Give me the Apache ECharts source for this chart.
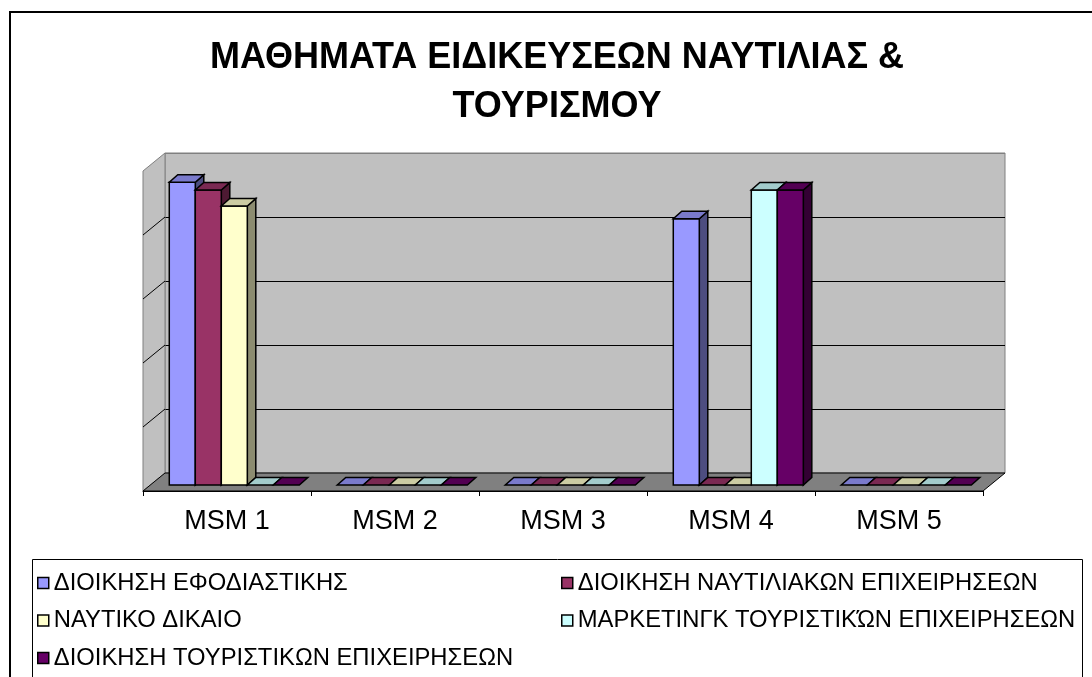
<!DOCTYPE html>
<html>
<head>
<meta charset="utf-8">
<script src="https://cdn.jsdelivr.net/npm/echarts@6/dist/echarts.min.js"></script>
<style>
html,body{margin:0;padding:0;background:#ffffff;}
#chart{width:1092px;height:677px;}
</style>
</head>
<body>
<div id="chart"></div>
<script>
// ---- data ----
const categories = ['MSM 1', 'MSM 2', 'MSM 3', 'MSM 4', 'MSM 5'];
const seriesNames = [
  'ΔΙΟΙΚΗΣΗ ΕΦΟΔΙΑΣΤΙΚΗΣ',
  'ΔΙΟΙΚΗΣΗ ΝΑΥΤΙΛΙΑΚΩΝ ΕΠΙΧΕΙΡΗΣΕΩΝ',
  'ΝΑΥΤΙΚΟ ΔΙΚΑΙΟ',
  'ΜΑΡΚΕΤΙΝΓΚ ΤΟΥΡΙΣΤΙΚΏΝ ΕΠΙΧΕΙΡΗΣΕΩΝ',
  'ΔΙΟΙΚΗΣΗ ΤΟΥΡΙΣΤΙΚΩΝ ΕΠΙΧΕΙΡΗΣΕΩΝ'
];
const dioikisiEfodiastikis = [4.73, 0, 0, 4.16, 0];
const dioikisiNaftiliakon = [4.61, 0, 0, 0, 0];
const naftikoDikaio = [4.36, 0, 0, 0, 0];
const marketingTouristikon = [0, 0, 0, 4.61, 0];
const dioikisiTouristikon = [0, 0, 0, 4.61, 0];
const yMin = 0;
const yMax = 5;
const yInterval = 1;
const titleText = 'ΜΑΘΗΜΑΤΑ ΕΙΔΙΚΕΥΣΕΩΝ ΝΑΥΤΙΛΙΑΣ &\nΤΟΥΡΙΣΜΟΥ';

// ---- style ----
const FRONT = ['#9999FF', '#993366', '#FFFFCC', '#CCFFFF', '#660066'];
const TOPC  = ['#7A7ACC', '#7A2952', '#CCCCA3', '#A3CCCC', '#520052'];
const SIDE  = ['#4D4D80', '#4D1A33', '#8C8C70', '#668080', '#330033'];
const FONT = "'Liberation Sans', Arial, sans-serif";
const WALL_DX = 22, WALL_DY = 18;   // depth of floor / side wall
const BAR_DX = 8.5, BAR_DY = 7.5;   // depth of a column
const GROUP = 0.774;                // share of a category band taken by the 5 columns
const EDGE = 1.5;                   // outline width of the columns

const allValues = [dioikisiEfodiastikis, dioikisiNaftiliakon, naftikoDikaio, marketingTouristikon, dioikisiTouristikon];

function barRender(i) {
  return function (params, api) {
    const cat = api.value(0), val = api.value(1);
    const top = api.coord([cat, val]);
    const base = api.coord([cat, 0]);
    const band = api.size([1, 0])[0];
    const w = band * GROUP / 5;
    const x0 = top[0] - band * GROUP / 2 + i * w, x1 = x0 + w;
    const yt = top[1], yb = base[1];
    const st = { stroke: '#000', lineWidth: EDGE, lineJoin: 'miter' };
    const children = [];
    if (yb - yt > 0.5) {
      children.push({ type: 'polygon', shape: { points: [[x1, yt], [x1 + BAR_DX, yt - BAR_DY], [x1 + BAR_DX, yb - BAR_DY], [x1, yb]] },
        style: Object.assign({}, st, { fill: SIDE[i] }) });
      children.push({ type: 'rect', shape: { x: x0, y: yt, width: w, height: yb - yt },
        style: Object.assign({}, st, { fill: FRONT[i] }) });
    }
    children.push({ type: 'polygon', shape: { points: [[x0, yt], [x1, yt], [x1 + BAR_DX, yt - BAR_DY], [x0 + BAR_DX, yt - BAR_DY]] },
      style: Object.assign({}, st, { fill: TOPC[i] }) });
    return { type: 'group', children: children };
  };
}

function wallRender(params, api) {
  const cs = params.coordSys;
  const x = cs.x, y = cs.y, w = cs.width, h = cs.height;
  const children = [];
  children.push({ type: 'polygon', shape: { points: [[x, y], [x, y + h], [x - WALL_DX, y + h + WALL_DY], [x - WALL_DX, y + WALL_DY]] },
    style: { fill: '#C0C0C0', stroke: '#808080', lineWidth: 1 } });
  for (let v = yMin + yInterval; v < yMax; v += yInterval) {
    const yy = api.coord([0, v])[1];
    children.push({ type: 'line', shape: { x1: x, y1: yy, x2: x - WALL_DX, y2: yy + WALL_DY },
      style: { stroke: '#000', lineWidth: 1 } });
  }
  children.push({ type: 'polygon', shape: { points: [[x, y + h], [x + w, y + h], [x + w - WALL_DX, y + h + WALL_DY], [x - WALL_DX, y + h + WALL_DY]] },
    style: { fill: '#808080', stroke: '#000', lineWidth: 1 } });
  return { type: 'group', children: children };
}

const chart = echarts.init(document.getElementById('chart'), null, { renderer: 'canvas' });

const series = [{
  type: 'custom', name: '_walls', xAxisIndex: 0, yAxisIndex: 0, z: 1, silent: true,
  renderItem: wallRender, data: [[0, 0]], clip: false
}];
allValues.forEach(function (vals, i) {
  series.push({
    type: 'custom', name: seriesNames[i], xAxisIndex: 2, yAxisIndex: 2, z: 3 + i,
    itemStyle: { color: FRONT[i] },
    renderItem: barRender(i), clip: false,
    encode: { x: 0, y: 1 },
    data: vals.map(function (v, k) { return [k, v]; })
  });
});

const legendCommon = {
  orient: 'vertical', padding: 0, itemGap: 13.5, itemWidth: 11, itemHeight: 11,
  icon: 'rect', selectedMode: false,
  itemStyle: { borderColor: '#000', borderWidth: 1.5 },
  textStyle: { fontFamily: FONT, fontSize: 23.8, color: '#000', lineHeight: 24 }
};

chart.setOption({
  animation: false,
  backgroundColor: '#ffffff',
  title: {
    text: titleText, left: 557, top: 33.5, textAlign: 'center', padding: 0,
    textStyle: { fontFamily: FONT, fontSize: 36, fontWeight: 'bold', color: '#000', lineHeight: 49 }
  },
  legend: [
    Object.assign({}, legendCommon, { left: 37, top: 571, data: [seriesNames[0], seriesNames[2], seriesNames[4]] }),
    Object.assign({}, legendCommon, { left: 561, top: 571, data: [seriesNames[1], seriesNames[3]] })
  ],
  grid: [
    { left: 165, top: 153, width: 840, height: 320, show: true, backgroundColor: '#C0C0C0', borderColor: '#808080', borderWidth: 1 },
    { left: 143, top: 171, width: 840, height: 320 },
    { left: 150.3, top: 165, width: 840, height: 320 }
  ],
  xAxis: [
    { type: 'category', gridIndex: 0, data: categories, show: false },
    { type: 'category', gridIndex: 1, data: categories, z: 10,
      axisLine: { show: true, lineStyle: { color: '#000', width: 1 } },
      axisTick: { show: true, length: 5, lineStyle: { color: '#000' } },
      axisLabel: { fontFamily: FONT, fontSize: 27, color: '#000', margin: 17 } },
    { type: 'category', gridIndex: 2, data: categories, show: false }
  ],
  yAxis: [
    { type: 'value', gridIndex: 0, min: yMin, max: yMax, interval: yInterval,
      axisLine: { show: false }, axisTick: { show: false }, axisLabel: { show: false },
      splitLine: { show: true, lineStyle: { color: ['#808080', '#000', '#000', '#000', '#000', '#808080'], width: 1 } } },
    { type: 'value', gridIndex: 1, min: yMin, max: yMax, interval: yInterval, show: false, splitLine: { show: false } },
    { type: 'value', gridIndex: 2, min: yMin, max: yMax, interval: yInterval, show: false, splitLine: { show: false } }
  ],
  graphic: [
    { type: 'rect', z: 0, silent: true, shape: { x: 10, y: 12, width: 1100, height: 700 },
      style: { fill: null, stroke: '#000', lineWidth: 2 } },
    { type: 'rect', z: 0, silent: true, shape: { x: 32.5, y: 559.5, width: 1050, height: 130 },
      style: { fill: null, stroke: '#000', lineWidth: 1 } }
  ],
  series: series
});
</script>
</body>
</html>
